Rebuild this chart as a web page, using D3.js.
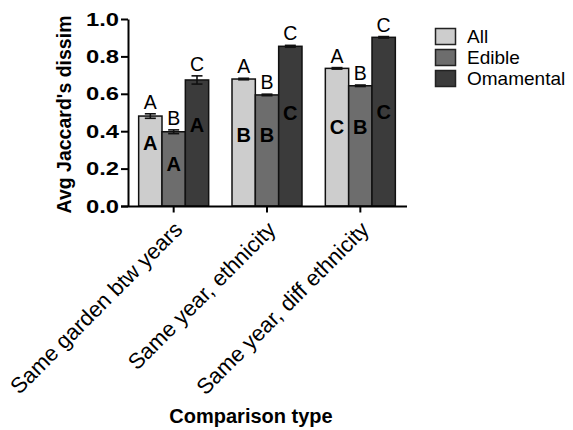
<!DOCTYPE html>
<html>
<head>
<meta charset="utf-8">
<script src="https://cdn.jsdelivr.net/npm/d3@7/dist/d3.min.js"></script>
<style>
  html, body { margin: 0; padding: 0; background: #fff; }
  svg { display: block; }
  text { font-family: "Liberation Sans", Arial, Helvetica, sans-serif; fill: #000; }
</style>
</head>
<body>
<svg id="chart" width="573" height="430"></svg>
<script>
// ---- data ----
const categories = ["Same garden btw years", "Same year, ethnicity", "Same year, diff ethnicity"];
const seriesNames = ["All", "Edible", "Omamental"];
const allValues = [0.481, 0.679, 0.736];
const edibleValues = [0.397, 0.594, 0.643];
const ornamentalValues = [0.674, 0.854, 0.902];
const allErrors = [0.012, 0.004, 0.004];
const edibleErrors = [0.010, 0.004, 0.004];
const ornamentalErrors = [0.022, 0.005, 0.004];
// significance letters: above bars (comparison across series), inside bars (comparison across categories)
const allTopLetters = ["A", "A", "A"];
const edibleTopLetters = ["B", "B", "B"];
const ornamentalTopLetters = ["C", "C", "C"];
const allInnerLetters = ["A", "B", "C"];
const edibleInnerLetters = ["A", "B", "B"];
const ornamentalInnerLetters = ["A", "C", "C"];
// y value (data units) at which the inner letters are centred
const allInnerAt = [0.337, 0.38, 0.422];
const edibleInnerAt = [0.225, 0.38, 0.422];
const ornamentalInnerAt = [0.433, 0.497, 0.503];
const yTicks = [0.0, 0.2, 0.4, 0.6, 0.8, 1.0];

const seriesValues = [allValues, edibleValues, ornamentalValues];
const seriesErrors = [allErrors, edibleErrors, ornamentalErrors];
const seriesTop = [allTopLetters, edibleTopLetters, ornamentalTopLetters];
const seriesInner = [allInnerLetters, edibleInnerLetters, ornamentalInnerLetters];
const seriesInnerAt = [allInnerAt, edibleInnerAt, ornamentalInnerAt];
const colors = ["#cdcdcd", "#6d6d6d", "#3b3b3b"];

const rows = [];
categories.forEach((c, ci) => {
  seriesNames.forEach((s, si) => {
    rows.push({
      cat: c, series: s, si,
      value: seriesValues[si][ci],
      err: seriesErrors[si][ci],
      top: seriesTop[si][ci],
      inner: seriesInner[si][ci],
      innerAt: seriesInnerAt[si][ci]
    });
  });
});

const svg = d3.select("#chart");
const plotLeft = 127, plotRight = 407, plotTop = 19, plotBottom = 206;

const y = d3.scaleLinear().domain([0, 1]).range([plotBottom, plotTop]);
const x0 = d3.scaleBand().domain(categories).range([plotLeft, plotRight])
  .paddingInner(0.25).paddingOuter(0.125);
const x1 = d3.scaleBand().domain(seriesNames).range([0, x0.bandwidth()]);
const color = d3.scaleOrdinal().domain(seriesNames).range(colors);
const cx = d => x0(d.cat) + x1(d.series) + x1.bandwidth() / 2;

// bars
const g = svg.append("g");
g.selectAll("rect.bar").data(rows).join("rect")
  .attr("class", "bar")
  .attr("x", d => x0(d.cat) + x1(d.series))
  .attr("y", d => y(d.value))
  .attr("width", x1.bandwidth())
  .attr("height", d => y(0) - y(d.value))
  .attr("fill", d => color(d.series))
  .attr("stroke", "#111")
  .attr("stroke-width", 1.5);

// error bars
const cap = 5.5;
const eb = g.selectAll("g.err").data(rows).join("g").attr("class", "err")
  .attr("stroke", "#111").attr("stroke-width", 1.6);
eb.append("line")
  .attr("x1", cx).attr("x2", cx)
  .attr("y1", d => y(d.value - d.err))
  .attr("y2", d => y(d.value + d.err));
eb.append("line")
  .attr("x1", d => cx(d) - cap).attr("x2", d => cx(d) + cap)
  .attr("y1", d => y(d.value + d.err))
  .attr("y2", d => y(d.value + d.err));
eb.append("line")
  .attr("x1", d => cx(d) - cap).attr("x2", d => cx(d) + cap)
  .attr("y1", d => y(d.value - d.err))
  .attr("y2", d => y(d.value - d.err));

// letters above bars
g.selectAll("text.top").data(rows).join("text")
  .attr("class", "top")
  .attr("x", cx)
  .attr("y", d => y(d.value + d.err) - 5)
  .attr("text-anchor", "middle")
  .style("font-size", "19.5px")
  .text(d => d.top);

// letters inside bars
g.selectAll("text.inner").data(rows).join("text")
  .attr("class", "inner")
  .attr("x", cx)
  .attr("y", d => y(d.innerAt))
  .attr("dy", "0.36em")
  .attr("text-anchor", "middle")
  .style("font-size", "20px")
  .style("font-weight", "bold")
  .text(d => d.inner);

// y axis
const sx = 1.25;
const yAxis = svg.append("g")
  .attr("transform", `translate(${plotLeft + 1},0)`)
  .call(d3.axisLeft(y).tickValues(yTicks).tickFormat(d3.format(".1f")).tickSize(7).tickSizeOuter(0));
yAxis.select(".domain").attr("stroke", "#000").attr("stroke-width", 2);
yAxis.selectAll(".tick line").attr("stroke", "#000").attr("stroke-width", 2);
yAxis.selectAll(".tick text")
  .attr("x", -9 / sx)
  .attr("transform", `scale(${sx},1)`)
  .style("font-size", "19px").style("font-weight", "bold")
  .style("font-family", "'Liberation Sans', Arial, sans-serif")
  .attr("fill", "#000");

// x axis
const xAxis = svg.append("g")
  .attr("transform", `translate(0,${plotBottom + 0.5})`)
  .call(d3.axisBottom(x0).tickSize(6).tickSizeOuter(0).tickFormat(""));
xAxis.select(".domain").attr("d", `M${plotLeft - 6},0H${plotRight}`)
  .attr("stroke", "#000").attr("stroke-width", 2);
xAxis.selectAll(".tick line").attr("stroke", "#000").attr("stroke-width", 2);

// x tick labels (rotated)
svg.append("g").selectAll("text").data(categories).join("text")
  .attr("transform", d => `translate(${x0(d) + x0.bandwidth() / 2 + 10},${plotBottom + 25}) rotate(-45)`)
  .attr("text-anchor", "end")
  .style("font-size", "22px")
  .text(d => d);

// axis titles
svg.append("text")
  .attr("transform", `translate(71,${(plotTop + plotBottom) / 2 + 2}) rotate(-90)`)
  .attr("text-anchor", "middle")
  .style("font-size", "19.5px").style("font-weight", "bold")
  .text("Avg Jaccard's dissim");

svg.append("text")
  .attr("x", 251).attr("y", 423)
  .attr("text-anchor", "middle")
  .style("font-size", "20px").style("font-weight", "bold")
  .text("Comparison type");

// legend
const legend = svg.append("g").attr("transform", "translate(435,28)");
const li = legend.selectAll("g").data(seriesNames).join("g")
  .attr("transform", (d, i) => `translate(0,${i * 21})`);
li.append("rect")
  .attr("x", 0.5).attr("y", 0.5).attr("width", 20).attr("height", 16)
  .attr("fill", d => color(d)).attr("stroke", "#222").attr("stroke-width", 1.5);
li.append("text")
  .attr("x", 32).attr("y", 8).attr("dy", "0.36em")
  .style("font-size", "19px")
  .text(d => d);
</script>
</body>
</html>
